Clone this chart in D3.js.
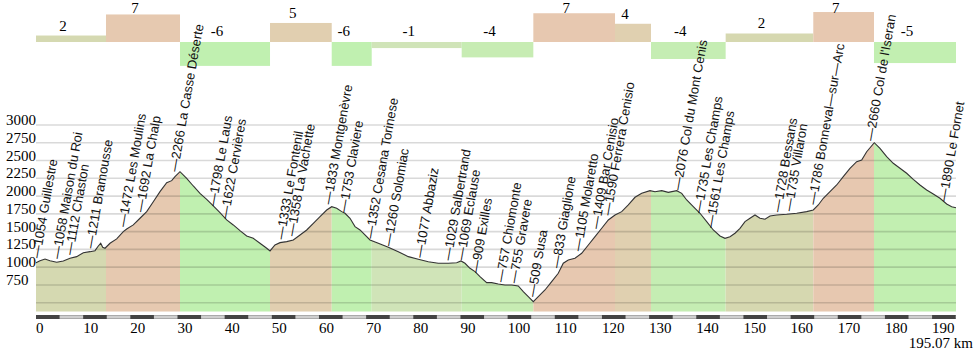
<!DOCTYPE html>
<html><head><meta charset="utf-8">
<script src="https://cdn.jsdelivr.net/npm/d3@7"></script>
<style>body{margin:0;background:#fff}svg{display:block}</style>
</head><body>
<script>
// ---- data ----
const profileKm = [0, 0.85, 1.91, 2.97, 4.39, 5.79, 7.21, 8.63, 10.03, 11.45, 12.51, 13.21, 13.72, 14.14, 14.63, 15.69, 17.11, 18.51, 19.23, 20.63, 22.05, 23.47, 24.87, 26.29, 27.71, 28.77, 29.47, 30.53, 31.95, 33.35, 34.77, 36.19, 37.59, 39.01, 40.43, 41.83, 43.25, 44.67, 46.07, 47.49, 48.92, 49.62, 50.67, 51.74, 53.16, 54.56, 55.98, 57.40, 58.80, 60.22, 61.64, 62.70, 63.76, 64.82, 65.52, 66.58, 67.64, 68.70, 70.82, 72.58, 74.70, 76.82, 78.94, 81.06, 83.18, 85.30, 87.42, 89.20, 90.11, 90.96, 92.02, 93.08, 94.14, 95.56, 96.62, 98.02, 99.44, 100.86, 102.26, 103.32, 104.38, 105.44, 106.50, 107.92, 109.34, 110.74, 111.80, 112.86, 114.28, 115.70, 117.11, 118.53, 119.95, 121.35, 122.77, 124.19, 125.59, 127.01, 128.43, 130.19, 131.25, 132.67, 134.07, 135.85, 136.91, 137.97, 139.37, 140.79, 142.21, 143.61, 145.03, 146.09, 147.15, 148.21, 149.27, 150.33, 151.39, 152.45, 153.51, 154.57, 155.63, 157.05, 159.17, 161.29, 163.41, 164.81, 165.87, 166.93, 168.35, 169.77, 171.17, 172.59, 174.01, 175.07, 176.13, 177.74, 178.95, 180.37, 181.77, 183.19, 184.61, 186.01, 187.43, 188.85, 190.25, 191.67, 193.09, 194.15, 195.07];
const profileElev = [1063, 1091, 1115, 1091, 1069, 1087, 1125, 1148, 1204, 1218, 1232, 1298, 1336, 1280, 1266, 1336, 1397, 1499, 1537, 1594, 1688, 1781, 1921, 2062, 2188, 2217, 2273, 2343, 2250, 2142, 2039, 1955, 1861, 1767, 1664, 1594, 1513, 1439, 1406, 1336, 1266, 1228, 1312, 1345, 1359, 1383, 1453, 1523, 1617, 1710, 1804, 1851, 1828, 1781, 1758, 1688, 1570, 1523, 1383, 1336, 1280, 1218, 1148, 1111, 1077, 1055, 1055, 1063, 1087, 1055, 984, 937, 866, 782, 782, 764, 750, 750, 735, 655, 585, 515, 585, 679, 796, 914, 1055, 1101, 1125, 1195, 1312, 1429, 1547, 1664, 1734, 1781, 1875, 1983, 2039, 2076, 2062, 2076, 2053, 2076, 2039, 1945, 1851, 1758, 1640, 1523, 1439, 1406, 1429, 1477, 1547, 1640, 1688, 1734, 1688, 1674, 1720, 1734, 1744, 1758, 1781, 1804, 1875, 1969, 2062, 2156, 2273, 2391, 2484, 2508, 2624, 2751, 2672, 2554, 2461, 2391, 2321, 2236, 2156, 2086, 2030, 1969, 1889, 1851, 1837];
const totalKm = 195.07;

const segmentStartKm = [0, 14.84, 30.53, 49.62, 62.70, 71.18, 90.26, 105.45, 122.77, 130.40, 146.23, 164.81, 177.68];
const segmentGrade = [1.6, 6.8, -5.9, 4.7, -5.9, -1.5, -3.8, 7.1, 4.5, -4.2, 2.1, 7.4, -5.2];
const segmentGradeLabel = ["2", "7", "-6", "5", "-6", "-1", "-4", "7", "4", "-4", "2", "7", "-5"];

const placeKm = [0.8, 5.1, 7.8, 12.2, 19.1, 22.8, 30.0, 38.2, 40.8, 52.6, 54.9, 62.6, 65.9, 71.5, 75.4, 82.0, 88.0, 90.8, 93.9, 99.2, 102.0, 105.9, 111.0, 115.6, 119.4, 121.9, 136.7, 141.2, 143.7, 157.9, 160.3, 165.4, 177.6, 193.1];
const placeElev = [1054, 1058, 1112, 1211, 1472, 1692, 2266, 1798, 1622, 1333, 1358, 1833, 1753, 1352, 1260, 1077, 1029, 1069, 909, 757, 755, 509, 833, 1105, 1409, 1590, 2076, 1735, 1561, 1728, 1735, 1786, 2660, 1890];
const placeName = ["Guillestre", "Maison du Roi", "Chaston", "Bramousse", "Les Moulins", "La Chalp", "La Casse Déserte", "Le Laus", "Cervières", "Le Fontenil", "La Vachette", "Montgenèvre", "Claviere", "Cesana Torinese", "Solomiac", "Abbaziz", "Salbertrand", "Eclause", "Exilles", "Chiomonte", "Gravere", "Susa", "Giaglione", "Molaretto", "Bar Cenisio", "Ferrera Cenisio", "Col du Mont Cenis", "Les Champs", "Les Champs", "Bessans", "Villaron", "Bonneval—sur—Arc", "Col de l'Iseran", "Le Fornet"];

const xTicks = [0, 10, 20, 30, 40, 50, 60, 70, 80, 90, 100, 110, 120, 130, 140, 150, 160, 170, 180, 190];
const yTickLabels = [750, 1000, 1250, 1500, 1750, 2000, 2250, 2500, 2750, 3000];
const gridValues = [500, 750, 1000, 1250, 1500, 1750, 2000, 2250, 2500, 2750, 3000];
const distanceLabel = "195.07 km";

// ---- layout ----
const W = 978, H = 353;
const plotLeft = 36, plotRight = 956, plotBottom = 311.7, barBase = 42;
const x = d3.scaleLinear().domain([0, totalKm]).range([plotLeft, plotRight]);
const y = d3.scaleLinear().domain([500, 3000]).range([302.7, 125]);
const gradePx = d3.scaleLinear().domain([0, 1]).range([0, 4.05]);
const color = d3.scaleLinear()
  .domain([-6, -4, -1.5, 2, 4.5, 7])
  .range(["#c0f0b0", "#c6edb3", "#d0e4b8", "#d6d8b0", "#e0d0b0", "#e7c8b0"])
  .clamp(true);

const profile = profileKm.map((k, i) => ({km: k, e: profileElev[i]}));
const segments = segmentStartKm.map((s, i) => ({
  x0: s, x1: i + 1 < segmentStartKm.length ? segmentStartKm[i + 1] : totalKm,
  g: segmentGrade[i], label: segmentGradeLabel[i]
}));
const elevAt = k => {
  const i = d3.bisector(d => d.km).right(profile, k);
  if (i <= 0) return profile[0].e;
  if (i >= profile.length) return profile[profile.length - 1].e;
  const a = profile[i - 1], b = profile[i];
  return a.e + (b.e - a.e) * (k - a.km) / (b.km - a.km);
};

const svg = d3.select("body").append("svg").attr("width", W).attr("height", H);

// gradient bars
svg.append("g").selectAll("rect").data(segments).join("rect")
  .attr("x", d => x(d.x0)).attr("width", d => x(d.x1) - x(d.x0))
  .attr("y", d => d.g > 0 ? barBase - gradePx(d.g) : barBase)
  .attr("height", d => gradePx(Math.abs(d.g)))
  .attr("fill", d => color(d.g));
svg.append("g").selectAll("text").data(segments).join("text")
  .attr("x", d => (x(d.x0) + x(d.x1)) / 2 - 8)
  .attr("y", d => d.g > 0 ? Math.max(barBase - gradePx(d.g) - 5, 12.5) : barBase - 6)
  .attr("text-anchor", "middle")
  .attr("font-family", "'Liberation Serif', 'Times New Roman', serif")
  .attr("font-size", 15).attr("fill", "#000")
  .text(d => d.label);

// filled profile
const area = d3.area().x(d => x(d.km)).y0(plotBottom).y1(d => y(d.e));
svg.append("clipPath").attr("id", "under").append("path").attr("d", area(profile));
svg.append("g").attr("clip-path", "url(#under)")
  .selectAll("rect").data(segments).join("rect")
  .attr("x", d => x(d.x0)).attr("width", d => x(d.x1) - x(d.x0))
  .attr("y", 100).attr("height", plotBottom - 100)
  .attr("fill", d => color(d.g));

// grid
svg.append("g").selectAll("line").data(gridValues).join("line")
  .attr("x1", plotLeft).attr("x2", plotRight)
  .attr("y1", d => y(d)).attr("y2", d => y(d))
  .attr("stroke", "#000").attr("stroke-opacity", 0.15).attr("stroke-width", 1.6);

// profile line
svg.append("path").attr("d", d3.line().x(d => x(d.km)).y(d => y(d.e))(profile))
  .attr("fill", "none").attr("stroke", "#333").attr("stroke-width", 1.1);

// y labels
svg.append("g").selectAll("text").data(yTickLabels).join("text")
  .attr("x", 6).attr("y", d => y(d))
  .attr("font-family", "'Liberation Serif', 'Times New Roman', serif")
  .attr("font-size", 15).attr("fill", "#000")
  .text(d => d);

// distance bar
const axisY = 315;
svg.append("rect").attr("x", plotLeft).attr("width", plotRight - plotLeft)
  .attr("y", axisY).attr("height", 4).attr("fill", "#aaa");
svg.append("rect").attr("x", plotLeft).attr("width", plotRight - plotLeft)
  .attr("y", axisY + 1.5).attr("height", 1).attr("fill", "#f4f4f4");
svg.append("g").selectAll("rect").data(xTicks).join("rect")
  .attr("x", d => x(d)).attr("width", d => x(Math.min(d + 5, totalKm)) - x(d))
  .attr("y", axisY).attr("height", 4).attr("fill", "#444");
svg.append("g").selectAll("text").data(xTicks).join("text")
  .attr("x", d => x(d)).attr("y", 333)
  .attr("font-family", "'Liberation Serif', 'Times New Roman', serif")
  .attr("font-size", 15).attr("fill", "#000")
  .text(d => d);
svg.append("text").attr("x", 973).attr("y", 348).attr("text-anchor", "end")
  .attr("font-family", "'Liberation Serif', 'Times New Roman', serif")
  .attr("font-size", 15).attr("fill", "#000").text(distanceLabel);

// place labels
const places = placeKm.map((k, i) => ({km: k, e: placeElev[i], name: placeName[i]}));
svg.append("g").selectAll("text").data(places).join("text")
  .attr("transform", d => `translate(${x(d.km)},${y(elevAt(d.km)) - 1}) rotate(-80)`)
  .attr("x", 1)
  .attr("font-family", "'Liberation Sans', Arial, sans-serif")
  .attr("font-size", 13).attr("fill", "#111")
  .text(d => "\u2014" + d.e + " " + d.name);
</script>
</body></html>
